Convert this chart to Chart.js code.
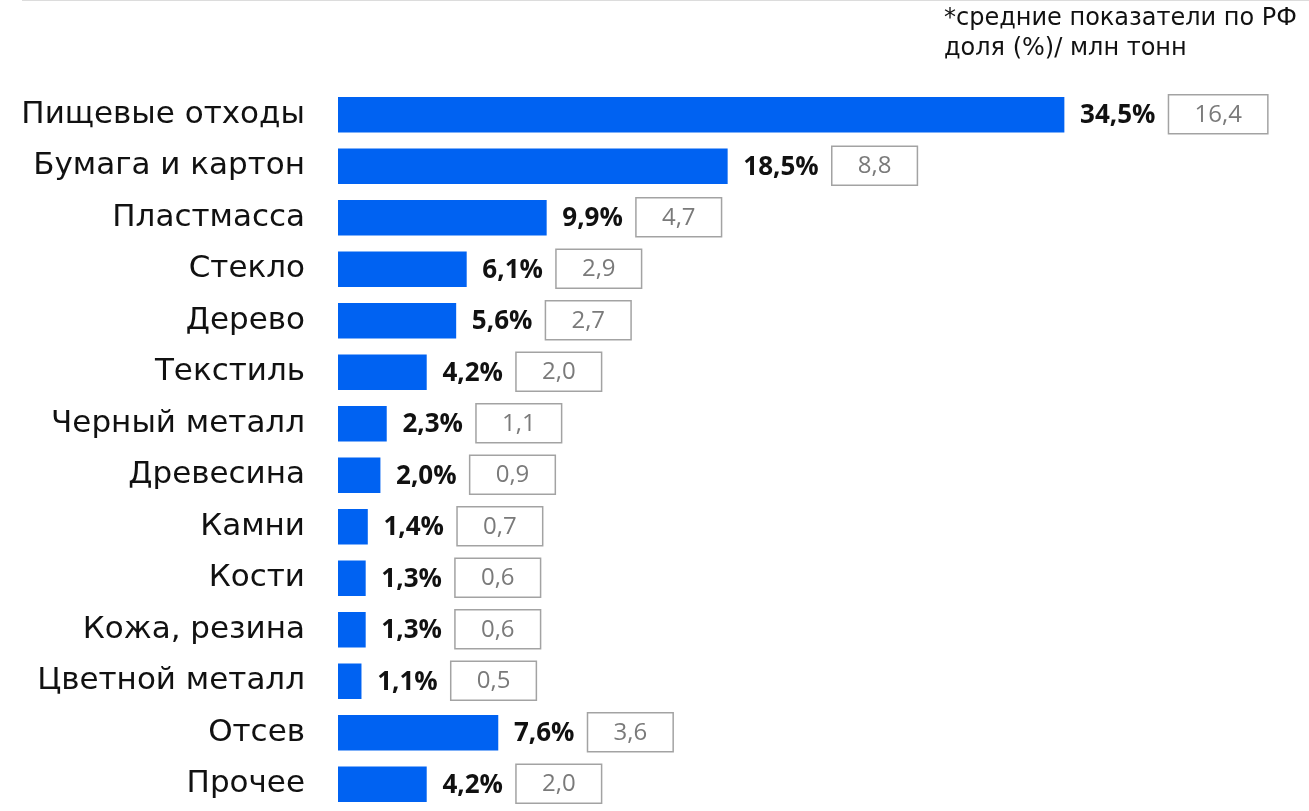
<!DOCTYPE html>
<html>
<head>
<meta charset="utf-8">
<script src="https://cdn.jsdelivr.net/npm/chart.js@4/dist/chart.umd.min.js"></script>
<style>
  html, body { margin: 0; padding: 0; background: #fff; }
  #wrap { position: relative; width: 1309px; height: 811px; }
  #chart { display: block; }
  #topline { position: absolute; left: 22px; right: 0; top: 0; height: 1px; background: #dcdcdc; }
  #note { position: absolute; left: 944px; top: 2px; font: 24px "DejaVu Sans", sans-serif; color: #111; line-height: 30px; }
</style>
</head>
<body>
<div id="wrap">
  <canvas id="chart" width="1309" height="811"></canvas>
  <div id="topline"></div>
  <div id="note">*средние показатели по РФ<br>доля (%)/ млн тонн</div>
</div>
<script>
const categories = [
  "Пищевые отходы", "Бумага и картон", "Пластмасса", "Стекло", "Дерево",
  "Текстиль", "Черный металл", "Древесина", "Камни", "Кости",
  "Кожа, резина", "Цветной металл", "Отсев", "Прочее",
];
// share of total, %
const shares = [34.5, 18.5, 9.9, 6.1, 5.6, 4.2, 2.3, 2.0, 1.4, 1.3, 1.3, 1.1, 7.6, 4.2];
// million tonnes
const tonnes = [16.4, 8.8, 4.7, 2.9, 2.7, 2.0, 1.1, 0.9, 0.7, 0.6, 0.6, 0.5, 3.6, 2.0];

const fmt = (v) => v.toFixed(1).replace(".", ",");

// percent label + boxed tonnes value to the right of each bar
const valueLabels = {
  id: "valueLabels",
  afterDatasetsDraw(chart) {
    const ctx = chart.ctx;
    const meta = chart.getDatasetMeta(0);
    ctx.save();
    ctx.textBaseline = "middle";
    meta.data.forEach((bar, i) => {
      const y = bar.y;
      ctx.font = 'bold 26px "Open Sans", sans-serif';
      ctx.fillStyle = "#111";
      ctx.textAlign = "left";
      const pct = fmt(shares[i]) + "%";
      const x1 = bar.x + 16;
      ctx.fillText(pct, x1, y + 1);
      const pw = ctx.measureText(pct).width;

      ctx.font = '24px "Open Sans", sans-serif';
      const t = fmt(tonnes[i]);
      const tw = ctx.measureText(t).width;
      const bx = x1 + pw + 13;
      const bw = tw + 52;
      ctx.strokeStyle = "#a3a3a3";
      ctx.lineWidth = 1.5;
      ctx.strokeRect(bx, y - 20, bw, 39);
      ctx.fillStyle = "#7a7a7a";
      ctx.textAlign = "center";
      ctx.fillText(t, bx + bw / 2, y);
    });
    ctx.restore();
  },
};

new Chart(document.getElementById("chart"), {
  type: "bar",
  data: {
    labels: categories,
    datasets: [
      {
        data: shares,
        backgroundColor: "#0062f2",
        barThickness: 35,
      },
    ],
  },
  options: {
    indexAxis: "y",
    responsive: false,
    animation: false,
    devicePixelRatio: 1,
    layout: { padding: { top: 89, bottom: 1, left: 0, right: 24 } },
    plugins: {
      legend: { display: false },
      tooltip: { enabled: false },
    },
    scales: {
      x: {
        min: 0,
        max: 45,
        display: false,
      },
      y: {
        grid: { display: false, drawTicks: false },
        border: { display: false },
        ticks: {
          color: "#111",
          padding: 33,
          font: { family: '"DejaVu Sans", sans-serif', size: 31 },
        },
        afterFit(scale) {
          scale.width = 338;
          // tick padding would otherwise be added above/below the chart area
          scale.paddingTop = 0;
          scale.paddingBottom = 0;
        },
      },
    },
  },
  plugins: [valueLabels],
});
</script>
</body>
</html>
